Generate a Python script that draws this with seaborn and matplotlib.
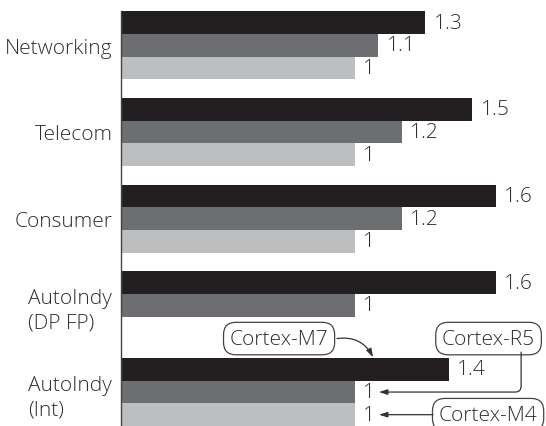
import numpy as np
import pandas as pd
import matplotlib
matplotlib.use("Agg")
import matplotlib.pyplot as plt
import seaborn as sns

categories = ["Networking", "Telecom", "Consumer", "AutoIndy\n(DP FP)", "AutoIndy\n(Int)"]
series = ["Cortex-M7", "Cortex-R5", "Cortex-M4"]
m7_vals = [1.3, 1.5, 1.6, 1.6, 1.4]
r5_vals = [1.1, 1.2, 1.2, 1.0, 1.0]
m4_vals = [1.0, 1.0, 1.0, np.nan, 1.0]
colors = ["#231f20", "#6d6e71", "#bcbec0"]

rows = []
for s, vals in zip(series, [m7_vals, r5_vals, m4_vals]):
    for c, v in zip(categories, vals):
        rows.append({"category": c, "series": s, "value": v})
df = pd.DataFrame(rows)

sns.set_style("white")
plt.rcParams["font.family"] = ["Open Sans", "DejaVu Sans"]
plt.rcParams["font.weight"] = "light"
TXT = "#2e2e2e"
FS = 15
WT = "light"

W, H = 546, 427
fig = plt.figure(figsize=(W / 100, H / 100), dpi=100)
left_px, top_px = 120.7, 12.3
ax = fig.add_axes([left_px / W, 0, (W - left_px) / W, (H - top_px) / H])

group_w = 0.783
sns.barplot(data=df, y="category", x="value", hue="series", order=categories,
            hue_order=series, palette=colors, orient="h", width=group_w,
            saturation=1, legend=False, ax=ax, errorbar=None, linewidth=0)

bar_h = group_w / 3
ax.set_xlim(0, (W - left_px) / 234.3)
ax.set_ylim(len(categories) - 1 + 1.5 * bar_h, -1.5 * bar_h)

for cont in ax.containers:
    ax.bar_label(cont, fmt="%g", padding=6, fontsize=FS, color=TXT, fontweight=WT)

for sp in ["top", "right", "bottom"]:
    ax.spines[sp].set_visible(False)
ax.spines["left"].set_color("#444444")
ax.spines["left"].set_linewidth(1.0)
ax.set_xticks([])
ax.set_xlabel("")
ax.set_ylabel("")
ax.tick_params(axis="y", length=0, pad=6, labelsize=FS, labelcolor=TXT)
for t in ax.get_yticklabels():
    t.set_multialignment("left")
    t.set_fontweight(WT)
    t.set_linespacing(1.3)

# annotations for the last group
gi = len(categories) - 1
y_m7 = gi - bar_h
y_r5 = gi
y_m4 = gi + bar_h
box = dict(boxstyle="round,pad=0.3,rounding_size=0.6", fc="white", ec="#444444", lw=0.9)
arrow = dict(arrowstyle="-|>,head_length=0.5,head_width=0.16", color="#333333", lw=0.9,
             shrinkA=0, shrinkB=0)
label_off = 0.102
box_y = y_m7 - 0.356

ax.text(0.676, box_y, "Cortex-M7", fontsize=FS, color=TXT, ha="center", va="center",
        bbox=box, clip_on=False, fontweight=WT)
ax.annotate("", xy=(1.077, y_m7 - bar_h / 2 - 0.01), xytext=(0.923, box_y),
            arrowprops=dict(arrow, connectionstyle="arc3,rad=-0.35"), annotation_clip=False)

ax.text(1.570, box_y, "Cortex-R5", fontsize=FS, color=TXT, ha="center", va="center",
        bbox=box, clip_on=False, fontweight=WT)
ax.annotate("", xy=(r5_vals[gi] + label_off, y_r5), xytext=(1.709, box_y + 0.156),
            arrowprops=dict(arrow, connectionstyle="angle,angleA=90,angleB=0,rad=6"),
            annotation_clip=False)

ax.text(1.568, y_m4, "Cortex-M4", fontsize=FS, color=TXT, ha="center", va="center",
        bbox=box, clip_on=False, fontweight=WT)
ax.annotate("", xy=(m4_vals[gi] + label_off, y_m4), xytext=(1.333, y_m4),
            arrowprops=dict(arrow), annotation_clip=False)

fig.savefig("out.png", dpi=100)
